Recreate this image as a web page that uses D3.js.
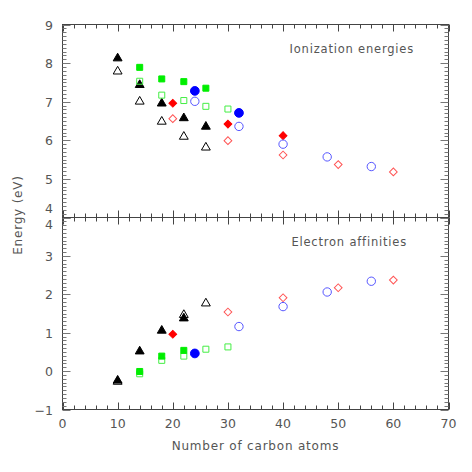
<!DOCTYPE html>
<meta charset="utf-8">
<script src="https://d3js.org/d3.v7.min.js"></script>
<style>
body { margin: 0; background: #fff; }
text { font-family: "DejaVu Sans", sans-serif; fill: #555; }
</style>
<div id="chart"></div>
<script>
// number of carbon atoms and energies (eV), one array per symbol & panel
var triFilledN_IE = [10, 14, 18, 22, 26];
var triFilledIE   = [8.15, 7.46, 6.98, 6.60, 6.38];
var triFilledN_EA = [10, 14, 18, 22];
var triFilledEA   = [-0.22, 0.54, 1.08, 1.40];

var triOpenN_IE = [10, 14, 18, 22, 26];
var triOpenIE   = [7.81, 7.03, 6.51, 6.12, 5.84];
var triOpenN_EA = [10, 22, 26];
var triOpenEA   = [-0.25, 1.49, 1.79];

var sqFilledN_IE = [14, 18, 22, 26];
var sqFilledIE   = [7.89, 7.59, 7.52, 7.35];
var sqFilledN_EA = [14, 18, 22];
var sqFilledEA   = [-0.01, 0.39, 0.54];

var sqOpenN_IE = [14, 18, 22, 26, 30];
var sqOpenIE   = [7.53, 7.17, 7.03, 6.88, 6.81];
var sqOpenN_EA = [14, 18, 22, 26, 30];
var sqOpenEA   = [-0.07, 0.28, 0.39, 0.57, 0.63];

var diaFilledN_IE = [20, 30, 40];
var diaFilledIE   = [6.96, 6.42, 6.12];
var diaFilledN_EA = [20];
var diaFilledEA   = [0.96];

var diaOpenN_IE = [20, 30, 40, 50, 60];
var diaOpenIE   = [6.56, 5.99, 5.62, 5.37, 5.18];
var diaOpenN_EA = [30, 40, 50, 60];
var diaOpenEA   = [1.54, 1.91, 2.17, 2.37];

var cirFilledN_IE = [24, 32];
var cirFilledIE   = [7.28, 6.71];
var cirFilledN_EA = [24];
var cirFilledEA   = [0.46];

var cirOpenN_IE = [24, 32, 40, 48, 56];
var cirOpenIE   = [7.01, 6.36, 5.90, 5.57, 5.32];
var cirOpenN_EA = [32, 40, 48, 56];
var cirOpenEA   = [1.16, 1.68, 2.06, 2.34];

var xTicks = [0, 10, 20, 30, 40, 50, 60, 70];
var yTicksTop = [4, 5, 6, 7, 8, 9];
var yTicksBot = [-1, 0, 1, 2, 3, 4];

var W = 472, H = 472;
var svg = d3.select("#chart").append("svg")
  .attr("width", W).attr("height", H);

var x = d3.scaleLinear().domain([0, 70]).range([62.5, 448.5]);
var yTop = d3.scaleLinear().domain([4, 9]).range([217.5, 24.5]);
var yBot = d3.scaleLinear().domain([-1, 4]).range([409.5, 217.5]);

var axisCol = "#444";

function drawFrame(y, dom) {
  var g = svg.append("g");
  var x0 = x(0), x1 = x(70), yA = y(dom[1]), yB = y(dom[0]);
  g.append("rect").attr("x", x0).attr("y", yA)
    .attr("width", x1 - x0).attr("height", yB - yA)
    .attr("fill", "none").attr("stroke", axisCol).attr("stroke-width", 1);

  // x ticks, minor every 2, major every 10
  d3.range(0, 70.01, 2).forEach(function(v) {
    var len = (v % 10 === 0) ? 7 : 4;
    var px = Math.round(x(v)) + 0.5;
    g.append("line").attr("x1", px).attr("x2", px).attr("y1", yB).attr("y2", yB - len)
      .attr("stroke", axisCol);
    g.append("line").attr("x1", px).attr("x2", px).attr("y1", yA).attr("y2", yA + len)
      .attr("stroke", axisCol);
  });
  // y ticks, minor every 0.1, major every 1
  d3.range(0, 50.5, 1).forEach(function(i) {
    var v = dom[0] + i * 0.1;
    var len = (i % 10 === 0) ? 8 : 4;
    var py = Math.round(y(v)) + 0.5;
    g.append("line").attr("x1", x0).attr("x2", x0 + len).attr("y1", py).attr("y2", py)
      .attr("stroke", "#777");
    g.append("line").attr("x1", x1).attr("x2", x1 - len).attr("y1", py).attr("y2", py)
      .attr("stroke", "#777");
  });
}

drawFrame(yTop, [4, 9]);
drawFrame(yBot, [-1, 4]);

// y tick labels (the two "4"s at the panel join are pushed apart)
yTicksTop.forEach(function(v) {
  svg.append("text").attr("x", 53).attr("y", yTop(v) + (v === 4 ? -4.5 : 5))
    .attr("text-anchor", "end").attr("font-size", 12.5).text(v);
});
yTicksBot.forEach(function(v) {
  svg.append("text").attr("x", 53).attr("y", yBot(v) + (v === 4 ? 11.5 : 5))
    .attr("text-anchor", "end").attr("font-size", 12.5)
    .text(v < 0 ? "\u2212" + Math.abs(v) : v);
});
// x tick labels
xTicks.forEach(function(v) {
  svg.append("text").attr("x", x(v)).attr("y", 428)
    .attr("text-anchor", "middle").attr("font-size", 12.5).text(v);
});

svg.append("text").attr("x", x(35)).attr("y", 450)
  .attr("text-anchor", "middle").attr("font-size", 12)
  .attr("letter-spacing", 0.8).text("Number of carbon atoms");
svg.append("text").attr("transform", "translate(22,215) rotate(-90)")
  .attr("text-anchor", "middle").attr("font-size", 12)
  .attr("letter-spacing", 0.8).text("Energy (eV)");

svg.append("text").attr("x", 414).attr("y", 53)
  .attr("text-anchor", "end").attr("font-size", 11.5)
  .attr("letter-spacing", 0.8).text("Ionization energies");
svg.append("text").attr("x", 407).attr("y", 246)
  .attr("text-anchor", "end").attr("font-size", 11.5)
  .attr("letter-spacing", 0.8).text("Electron affinities");

// markers
function plot(ns, vals, y, type, color, filled) {
  var sym = {tri: d3.symbolTriangle, sq: d3.symbolSquare, dia: d3.symbolSquare, cir: d3.symbolCircle}[type];
  var size = {tri: 34, sq: 36, dia: 30, cir: filled ? 60 : 55}[type];
  var pts = ns.map(function(n, i) { return [n, vals[i]]; });
  svg.append("g").selectAll("path")
    .data(pts)
    .enter()
    .append("path")
    .attr("transform", function(d) {
      var dy = type === "tri" ? 1 : 0;
      var rot = type === "dia" ? " rotate(45)" : "";
      return "translate(" + x(d[0]) + "," + (y(d[1]) + dy) + ")" + rot;
    })
    .attr("d", d3.symbol().type(sym).size(size))
    .attr("fill", filled ? color : "none")
    .attr("stroke", color)
    .attr("stroke-width", 1);
}

var black = "#000", green = "#00ee00", red = "#ff0000", blue = "#0000ff";
var greenO = "#44ee44", redO = "#ff5555", blueO = "#5555ff";

plot(triOpenN_IE, triOpenIE, yTop, "tri", black, false);
plot(triFilledN_IE, triFilledIE, yTop, "tri", black, true);
plot(sqOpenN_IE, sqOpenIE, yTop, "sq", greenO, false);
plot(sqFilledN_IE, sqFilledIE, yTop, "sq", green, true);
plot(diaOpenN_IE, diaOpenIE, yTop, "dia", redO, false);
plot(diaFilledN_IE, diaFilledIE, yTop, "dia", red, true);
plot(cirOpenN_IE, cirOpenIE, yTop, "cir", blueO, false);
plot(cirFilledN_IE, cirFilledIE, yTop, "cir", blue, true);

plot(triOpenN_EA, triOpenEA, yBot, "tri", black, false);
plot(triFilledN_EA, triFilledEA, yBot, "tri", black, true);
plot(sqOpenN_EA, sqOpenEA, yBot, "sq", greenO, false);
plot(sqFilledN_EA, sqFilledEA, yBot, "sq", green, true);
plot(diaOpenN_EA, diaOpenEA, yBot, "dia", redO, false);
plot(diaFilledN_EA, diaFilledEA, yBot, "dia", red, true);
plot(cirOpenN_EA, cirOpenEA, yBot, "cir", blueO, false);
plot(cirFilledN_EA, cirFilledEA, yBot, "cir", blue, true);
</script>
